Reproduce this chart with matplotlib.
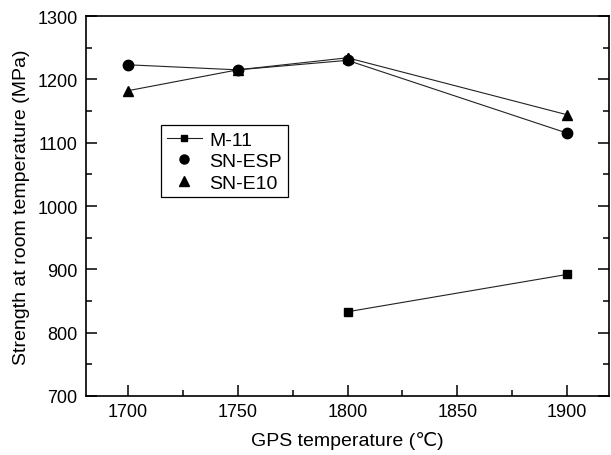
import numpy as np
import matplotlib
matplotlib.use('Agg')
import matplotlib.pyplot as plt
import matplotlib.lines as mlines
from matplotlib.ticker import MultipleLocator

plt.rcParams['font.family'] = ['Liberation Sans', 'DejaVu Sans']

# GPS temperature (C) and room temperature strength (MPa)
m11_t = [1800, 1900]
m11_s = [833, 892]
esp_t = [1700, 1750, 1800, 1900]
esp_s = [1223, 1215, 1230, 1115]
e10_t = [1700, 1750, 1800, 1900]
e10_s = [1182, 1215, 1234, 1144]
labels = ['M-11', 'SN-ESP', 'SN-E10']

fig = plt.figure(figsize=(6.11, 4.56), dpi=100)
ax = fig.add_axes([0.1408, 0.1294, 0.8559, 0.8333])

ax.plot(m11_t, m11_s, color='#222222', lw=0.8, marker='s', ms=6, mfc='black', mec='black')
ax.plot(e10_t, e10_s, color='#222222', lw=0.8, marker='^', ms=7.5, mfc='black', mec='black', zorder=2)
ax.plot(esp_t, esp_s, color='#222222', lw=0.8, marker='o', ms=7.5, mfc='black', mec='black', zorder=2.1)
# triangle at 1800 sits on top in the original
ax.plot(e10_t[2:3], e10_s[2:3], ls='none', marker='^', ms=7.5, color='black', zorder=2.2)

ax.set_xlim(1681, 1919)
ax.set_ylim(700, 1300)
ax.xaxis.set_major_locator(MultipleLocator(50))
ax.xaxis.set_minor_locator(MultipleLocator(25))
ax.yaxis.set_major_locator(MultipleLocator(100))
ax.yaxis.set_minor_locator(MultipleLocator(50))
ax.tick_params(which='both', direction='in', right=True, top=False, labelsize=13, width=1.1)
ax.tick_params(which='major', length=8)
ax.tick_params(which='minor', length=4)
ax.tick_params(axis='x', pad=5)
ax.tick_params(axis='y', pad=6)
for s in ax.spines.values():
    s.set_linewidth(1.2)

ax.set_xlabel('GPS temperature (\u2103)', fontsize=14, labelpad=8)
ax.set_ylabel('Strength at room temperature (MPa)', fontsize=14, labelpad=5)

h = [mlines.Line2D([], [], color='#222222', lw=0.8, marker='s', ms=5, mfc='black', mec='black'),
     mlines.Line2D([], [], ls='none', marker='o', ms=6.5, color='black'),
     mlines.Line2D([], [], ls='none', marker='^', ms=7, color='black')]
leg = ax.legend(h, labels, loc='upper left', bbox_to_anchor=(0.143, 0.713), fontsize=14,
                frameon=True, fancybox=False, edgecolor='black', framealpha=1,
                handlelength=1.8, handletextpad=0.4, borderpad=0.3, labelspacing=0.2,
                borderaxespad=0)
leg.get_frame().set_linewidth(0.9)

fig.savefig('out.png', dpi=100)
